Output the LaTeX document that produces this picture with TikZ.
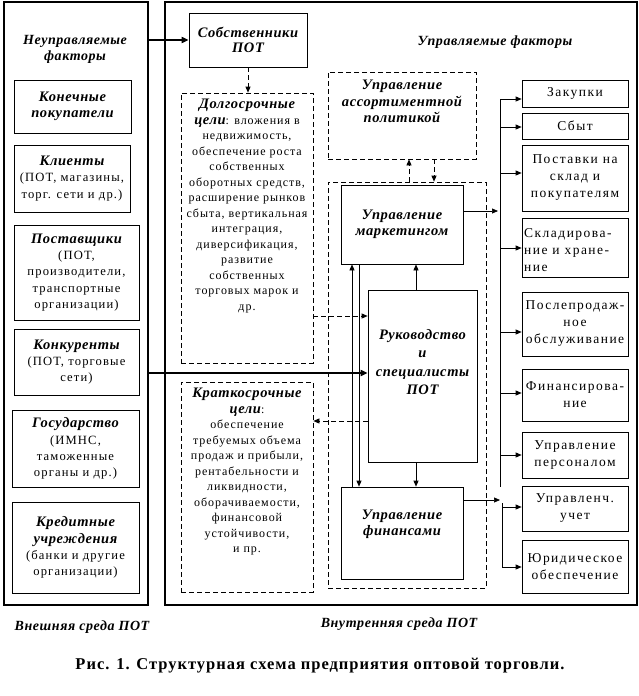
\documentclass[tikz,border=0pt]{standalone}
\usepackage{fontspec}
\setmainfont{Liberation Serif}
\newfontfamily\lsfont[LetterSpace=8]{Liberation Serif}
\newfontfamily\lwfont[LetterSpace=9]{Liberation Serif}
\newfontfamily\rbfont[LetterSpace=11]{Liberation Serif}
\newfontfamily\hdfont[LetterSpace=4]{Liberation Serif}
\newfontfamily\capfont[LetterSpace=6]{Liberation Serif}
\usetikzlibrary{arrows.meta}
\newcommand\tx{\lsfont\fontsize{12}{15.5}\selectfont}
\newcommand\lt{\lwfont\fontsize{12.6}{16.3}\selectfont}
\newcommand\rt{\rbfont\fontsize{13.5}{17}\selectfont}
\newcommand\bi{\hdfont\fontsize{14.5}{16.5}\selectfont\bfseries\itshape}
\begin{document}
\begin{tikzpicture}[x=1pt,y=1pt,
  frame/.style={draw, line width=2.6pt, inner sep=0},
  box/.style={draw, line width=0.7pt, inner sep=0, align=center, font=\tx},
  lbox/.style={box, font=\lt},
  rbox/.style={box, font=\rt},
  dbox/.style={draw, line width=0.7pt, dash pattern=on 5pt off 3pt, inner sep=0},
  txt/.style={inner sep=0, align=center, font=\tx},
  head/.style={inner sep=0, align=center, font=\hdfont\fontsize{14}{16}\selectfont\bfseries\itshape},
  ar/.style={line width=0.7pt, -{Triangle[length=6pt,width=5pt]}},
  dar/.style={ar, dash pattern=on 5pt off 3pt},
  thk/.style={line width=2pt, -{Triangle[length=7pt,width=6pt]}},
  ln/.style={line width=0.7pt}]
\useasboundingbox (0,0) rectangle (639,-696);
\fill[white] (0,0) rectangle (639,-696);
% frames
\node[frame, minimum width=144, minimum height=603] (lframe) at (76,-303.5) {};
\node[frame, minimum width=472, minimum height=603] (rframe) at (401,-303.5) {};
% headings
\node[head] (nf) at (75,-49) {Неуправляемые\\факторы};
\node[head] (uf) at (495,-42) {Управляемые факторы};
\node[head] (vnesh) at (82,-627) {Внешняя среда ПОТ};
\node[head] (vnutr) at (399,-624) {Внутренняя среда ПОТ};
\node[txt, font=\capfont\fontsize{16.5}{18}\selectfont\bfseries] (cap) at (320,-666) {Рис. 1. Структурная схема предприятия оптовой торговли.};
% left column
\node[lbox, minimum width=117, minimum height=53] (kon) at (72.5,-106.5) {\bi Конечные\\\bi покупатели};
\node[lbox, minimum width=116, minimum height=67] (kli) at (72,-178.5) {\bi Клиенты\\(ПОТ, магазины,\\торг. сети и др.)};
\node[lbox, minimum width=125, minimum height=95] (post) at (76.5,-272.5) {\bi Поставщики\\(ПОТ,\\производители,\\транспортные\\организации)};
\node[lbox, minimum width=125, minimum height=66] (konk) at (76.5,-362) {\bi Конкуренты\\(ПОТ, торговые\\сети)};
\node[lbox, minimum width=127, minimum height=77] (gos) at (75.5,-448.5) {\bi Государство\\(ИМНС,\\таможенные\\органы и др.)};
\node[lbox, minimum width=127, minimum height=91] (kred) at (75.5,-547.5) {\bi Кредитные\\\bi учреждения\\(банки и другие\\организации)};
% middle
\node[box, minimum width=118, minimum height=54] (sob) at (248,-40) {\bi Собственники\\\bi ПОТ};
\node[dbox, minimum width=132, minimum height=270] (dolg) at (247,-228) {};
\node[txt, anchor=north] (dolgT) at (247,-99) {{\bi Долгосрочные}\\{\bi цели}: вложения в\\недвижимость,\\обеспечение роста\\собственных\\оборотных средств,\\расширение рынков\\сбыта, вертикальная\\интеграция,\\диверсификация,\\развитие\\собственных\\торговых марок и\\др.};
\node[dbox, minimum width=132, minimum height=210] (krat) at (247,-487) {};
\node[txt, anchor=north] (kratT) at (247,-388) {{\bi Краткосрочные}\\{\bi цели}:\\обеспечение\\требуемых объема\\продаж и прибыли,\\рентабельности и\\ликвидности,\\оборачиваемости,\\финансовой\\устойчивости,\\и пр.};
\node[dbox, minimum width=148, minimum height=87] (assort) at (402,-115.5) {};
\node[txt, font=\bi] (assortT) at (402,-101.5) {Управление\\ассортиментной\\политикой};
\node[dbox, minimum width=158, minimum height=406] (outer) at (407,-385) {};
\node[box, minimum width=122, minimum height=79] (mark) at (402,-224.5) {\bi Управление\\\bi маркетингом};
\node[box, minimum width=109, minimum height=172] (ruk) at (422.5,-376) {};
\node[txt, font=\hdfont\fontsize{14.5}{18.3}\selectfont\bfseries\itshape] (rukT) at (422.5,-362) {Руководство\\и\\специалисты\\ПОТ};
\node[box, minimum width=122, minimum height=92] (fin) at (402,-533) {};
\node[txt, font=\bi] (finT) at (402,-524.5) {Управление\\финансами};
% right column
\node[rbox, minimum width=106, minimum height=27] (zak) at (575,-93.5) {Закупки};
\node[rbox, minimum width=106, minimum height=26] (sbyt) at (575,-126) {Сбыт};
\node[rbox, minimum width=106, minimum height=66] (postav) at (575,-178) {Поставки на\\склад и\\покупателям};
\node[rbox, minimum width=106, minimum height=59] (sklad) at (575,-247.5) {};
\node[txt, font=\rt, align=left, anchor=west] (skladT) at (524,-250) {Складирова-\\ние и хране-\\ние};
\node[rbox, minimum width=106, minimum height=64] (poslep) at (575,-324) {Послепродаж-\\ное\\обслуживание};
\node[rbox, minimum width=106, minimum height=52] (finans) at (575,-395) {Финансирова-\\ние};
\node[rbox, minimum width=106, minimum height=46] (pers) at (575,-455) {Управление\\персоналом};
\node[rbox, minimum width=106, minimum height=45] (uchet) at (575,-508.5) {Управленч.\\учет};
\node[rbox, minimum width=106, minimum height=53] (yur) at (575,-566.5) {Юридическое\\обеспечение};
% thick connectors
\draw[thk] (lframe.east |- sob.west) -- (sob.west);
\coordinate (k1) at (148,-373);
\draw[thk] (k1) -- (k1 -| ruk.west);
% dashed connectors
\draw[dar] (sob.south) -- (sob.south |- dolg.north);
\coordinate (d1) at (313,-316);
\draw[dar] (d1) -- (d1 -| ruk.west);
\coordinate (d2) at (368,-421);
\draw[dar] (d2) -- (d2 -| krat.east);
\coordinate (a1) at (409,-182);
\draw[dar] (a1) -- (a1 |- assort.south);
\coordinate (a2) at (434,-159);
\draw[dar] (a2) -- (a2 |- outer.north);
% solid inner connectors
\coordinate (r1) at (416,-290);
\draw[ar] (r1) -- (r1 |- mark.south);
\coordinate (r2) at (416,-462);
\draw[ar] (r2) -- (r2 |- fin.north);
\coordinate (v1) at (352,-487);
\draw[ar] (v1) -- (v1 |- mark.south);
\coordinate (v2) at (359,-264);
\draw[ar] (v2) -- (v2 |- fin.north);
% buses
\coordinate (m1) at (463,-211);
\coordinate (b1) at (498,-211);
\draw[ar] (m1) -- (b1);
\coordinate (f1) at (463,-500);
\coordinate (b2) at (500,-500);
\draw[ar] (f1) -- (b2);
\coordinate (bt) at (500,-99);
\coordinate (bb) at (500,-487);
\draw[ln] (bt) -- (bb);
\coordinate (ct) at (502,-503);
\coordinate (cb) at (502,-567);
\draw[ln] (ct) -- (cb);
\foreach \n/\y in {zak/99, sbyt/127, postav/173, sklad/248, poslep/332, finans/393, pers/455}
  \draw[ar] (500,-\y) -- (\n.west |- 0,-\y);
\foreach \n/\y in {uchet/507, yur/567}
  \draw[ar] (502,-\y) -- (\n.west |- 0,-\y);
\end{tikzpicture}
\end{document}
